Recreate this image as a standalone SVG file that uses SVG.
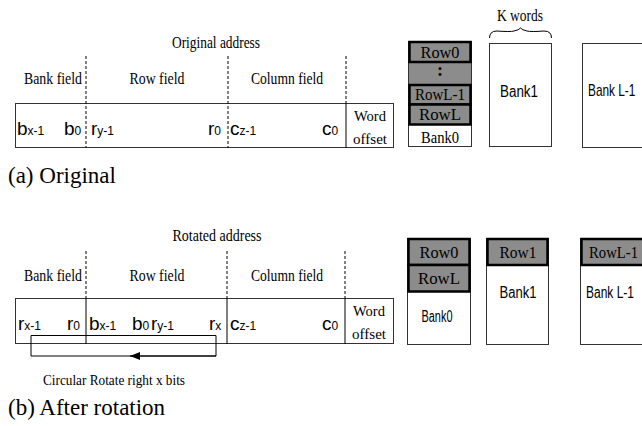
<svg xmlns="http://www.w3.org/2000/svg" width="642" height="426" viewBox="0 0 642 426">
<defs>
<style>
.serif{font-family:"Liberation Serif","Times New Roman",serif;fill:#000}
.sans{font-family:"Liberation Sans",Arial,sans-serif;fill:#000}
.lbl{font-size:16px}
.bit{font-size:19px}
.sub{font-size:12px}
.cap{font-size:23px}
.box{fill:#fff;stroke:#333;stroke-width:1}
.dash{stroke:#000;stroke-width:1;stroke-dasharray:3 2;fill:none}
.sep{stroke:#000;stroke-width:1;fill:none}
.grey{fill:#8c8c8c;stroke:none}
.row{fill:#8c8c8c;stroke:#000;stroke-width:2.5}
.line{stroke:#000;stroke-width:1;fill:none}
</style>
<marker id="arrowL" viewBox="0 0 10 8" refX="10" refY="4" markerWidth="10" markerHeight="8" markerUnits="userSpaceOnUse" orient="auto">
<path d="M0,0 L10,4 L0,8 Z" fill="#000"/>
</marker>
</defs>
<rect width="642" height="426" fill="#fff"/>

<!-- (a) Original address -->
<g id="orig-address">
<text class="serif lbl" x="216" y="48" text-anchor="middle" textLength="88" lengthAdjust="spacingAndGlyphs">Original address</text>
<text class="serif lbl" x="53" y="84" text-anchor="middle" textLength="58" lengthAdjust="spacingAndGlyphs">Bank field</text>
<text class="serif lbl" x="157" y="84" text-anchor="middle" textLength="55" lengthAdjust="spacingAndGlyphs">Row field</text>
<text class="serif lbl" x="287" y="84" text-anchor="middle" textLength="72" lengthAdjust="spacingAndGlyphs">Column field</text>
<rect class="box" x="15.5" y="103.5" width="378" height="44"/>
<line class="dash" x1="86" y1="56" x2="86" y2="148"/>
<line class="dash" x1="228" y1="56" x2="228" y2="148"/>
<line class="dash" x1="346" y1="56" x2="346" y2="103"/>
<line class="sep" x1="346" y1="103" x2="346" y2="148"/>
<text class="sans bit" x="17" y="135">b<tspan class="sub">x-1</tspan></text>
<text class="sans bit" x="64" y="135">b<tspan class="sub">0</tspan></text>
<text class="sans bit" x="91" y="135">r<tspan class="sub">y-1</tspan></text>
<text class="sans bit" x="208" y="135">r<tspan class="sub">0</tspan></text>
<text class="sans bit" x="230" y="135">c<tspan class="sub">z-1</tspan></text>
<text class="sans bit" x="322" y="135">c<tspan class="sub">0</tspan></text>
<text class="serif" font-size="15" x="370" y="121" text-anchor="middle" textLength="32" lengthAdjust="spacingAndGlyphs">Word</text>
<text class="serif" font-size="15" x="370" y="144" text-anchor="middle" textLength="34" lengthAdjust="spacingAndGlyphs">offset</text>
</g>

<g id="orig-bank0">
<rect class="box" x="408.5" y="41.5" width="63" height="105"/>
<rect class="grey" x="409" y="42" width="62" height="83"/>
<rect class="row" x="409.5" y="42" width="61" height="20"/>
<rect class="row" x="409.5" y="85" width="61" height="19.5"/>
<rect class="row" x="409.5" y="104.5" width="61" height="20"/>
<text class="serif lbl" x="440" y="58" text-anchor="middle" textLength="39" lengthAdjust="spacingAndGlyphs">Row0</text>
<text class="serif" font-size="18" font-weight="bold" x="440" y="76" text-anchor="middle">:</text>
<text class="serif lbl" x="440" y="100" text-anchor="middle" textLength="50" lengthAdjust="spacingAndGlyphs">RowL-1</text>
<text class="serif lbl" x="440" y="120" text-anchor="middle" textLength="42" lengthAdjust="spacingAndGlyphs">RowL</text>
<text class="serif lbl" x="440" y="143" text-anchor="middle" textLength="38" lengthAdjust="spacingAndGlyphs">Bank0</text>
</g>

<g id="orig-bank1">
<path class="line" d="M489.5,38 Q489.5,31 497,31 Q510,32 514,31 Q519,30 520.5,28 Q522,30 527,31 Q531,32 544,31 Q551.5,31 551.5,38"/>
<text class="serif lbl" x="520" y="21" text-anchor="middle" textLength="46" lengthAdjust="spacingAndGlyphs">K words</text>
<rect class="box" x="489.5" y="43.5" width="62" height="103"/>
<text class="sans" font-size="16" x="519" y="97" text-anchor="middle" textLength="38" lengthAdjust="spacingAndGlyphs">Bank1</text>
</g>

<g id="orig-bankL1">
<rect class="box" x="582.5" y="43.5" width="80" height="104"/>
<text class="sans" font-size="16" transform="translate(588,96) scale(0.74,1)" x="0" y="0">Bank L-1</text>
</g>

<text id="cap-a" class="serif cap" x="8" y="183">(a) Original</text>

<!-- (b) Rotated address -->
<g id="rot-address">
<text class="serif lbl" x="217" y="241" text-anchor="middle" textLength="89" lengthAdjust="spacingAndGlyphs">Rotated address</text>
<text class="serif lbl" x="53" y="281" text-anchor="middle" textLength="58" lengthAdjust="spacingAndGlyphs">Bank field</text>
<text class="serif lbl" x="157" y="281" text-anchor="middle" textLength="55" lengthAdjust="spacingAndGlyphs">Row field</text>
<text class="serif lbl" x="287" y="281" text-anchor="middle" textLength="72" lengthAdjust="spacingAndGlyphs">Column field</text>
<rect class="box" x="15.5" y="298.5" width="378" height="45"/>
<line class="dash" x1="86" y1="251" x2="86" y2="298"/>
<line class="sep" x1="86" y1="298" x2="86" y2="344"/>
<line class="dash" x1="227" y1="251" x2="227" y2="298"/>
<line class="sep" x1="227" y1="298" x2="227" y2="344"/>
<line class="dash" x1="345" y1="251" x2="345" y2="298"/>
<line class="sep" x1="345" y1="298" x2="345" y2="344"/>
<text class="sans bit" x="18" y="330">r<tspan class="sub">x-1</tspan></text>
<text class="sans bit" x="67" y="330">r<tspan class="sub">0</tspan></text>
<text class="sans bit" x="89" y="330">b<tspan class="sub">x-1</tspan></text>
<text class="sans bit" x="132" y="330">b<tspan class="sub">0</tspan></text>
<text class="sans bit" x="151" y="330">r<tspan class="sub">y-1</tspan></text>
<text class="sans bit" x="209" y="330">r<tspan class="sub">x</tspan></text>
<text class="sans bit" x="230" y="330">c<tspan class="sub">z-1</tspan></text>
<text class="sans bit" x="322" y="330">c<tspan class="sub">0</tspan></text>
<text class="serif" font-size="15" x="369" y="316" text-anchor="middle" textLength="32" lengthAdjust="spacingAndGlyphs">Word</text>
<text class="serif" font-size="15" x="369" y="339" text-anchor="middle" textLength="34" lengthAdjust="spacingAndGlyphs">offset</text>
</g>

<g id="connectors">
<path class="line" d="M216,356 L216,335.5 L31,335.5 L31,356 Z"/>
<path class="line" d="M216,356 L130,356" marker-end="url(#arrowL)"/>
</g>
<text id="rotate-label" class="serif" font-size="15" x="114" y="385" text-anchor="middle" textLength="142" lengthAdjust="spacingAndGlyphs">Circular Rotate right x bits</text>

<g id="rot-bank0">
<rect class="box" x="407.5" y="238.5" width="63" height="106"/>
<rect class="row" x="408.5" y="239" width="61" height="26"/>
<rect class="row" x="408.5" y="265" width="61" height="26.5"/>
<text class="serif lbl" x="439" y="258" text-anchor="middle" textLength="39" lengthAdjust="spacingAndGlyphs">Row0</text>
<text class="serif lbl" x="439" y="284" text-anchor="middle" textLength="42" lengthAdjust="spacingAndGlyphs">RowL</text>
<text class="sans" font-size="16" x="437" y="322" text-anchor="middle" textLength="31" lengthAdjust="spacingAndGlyphs">Bank0</text>
</g>

<g id="rot-bank1">
<rect class="box" x="486.5" y="238.5" width="62" height="106"/>
<rect class="row" x="487.5" y="239" width="60" height="26"/>
<text class="serif lbl" x="518" y="258" text-anchor="middle" textLength="37" lengthAdjust="spacingAndGlyphs">Row1</text>
<text class="sans" font-size="16" x="518" y="298" text-anchor="middle" textLength="37" lengthAdjust="spacingAndGlyphs">Bank1</text>
</g>

<g id="rot-bankL1">
<rect class="box" x="580.5" y="238.5" width="80" height="106"/>
<rect class="row" x="581.5" y="239" width="80" height="26"/>
<text class="serif lbl" x="589" y="258" textLength="49" lengthAdjust="spacingAndGlyphs">RowL-1</text>
<text class="sans" font-size="16" transform="translate(586,298) scale(0.75,1)" x="0" y="0">Bank L-1</text>
</g>

<text id="cap-b" class="serif cap" x="8" y="415">(b) After rotation</text>
</svg>
